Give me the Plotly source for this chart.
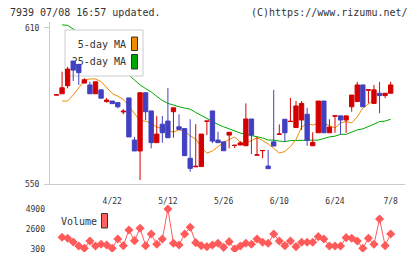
import plotly.graph_objects as go

# ---------------- data ----------------
idx = list(range(61))
tick_pos = [10, 20, 30, 40, 50, 60]
tick_txt = ["4/22", "5/12", "5/26", "6/10", "6/24", "7/8"]

open_ = [584.2, 584.7, 587.8, 597.3, 596.0, 588.8, 588.1, 584.7, 586.2, 581.7,
         581.9, 581.3, 577.7, 583.1, 566.9, 562.7, 585.1, 578.1, 565.9, 573.0,
         574.2, 577.8, 572.0, 571.3, 559.9, 556.6, 556.7, 574.1, 578.1, 566.9,
         566.2, 568.8, 564.8, 565.0, 564.7, 575.0, 561.1, 562.8, 556.9, 566.2,
         569.1, 574.9, 574.0, 571.7, 574.6, 576.8, 564.7, 569.7, 581.9, 569.7,
         576.1, 576.2, 574.6, 579.7, 581.7, 588.1, 586.1, 581.0, 584.9, 584.0,
         584.9]
high = [584.3, 593.2, 595.1, 597.3, 596.0, 590.7, 589.3, 589.3, 586.2, 583.1,
        581.9, 581.3, 578.8, 583.1, 568.1, 585.1, 585.1, 578.1, 576.2, 576.2,
        586.9, 579.3, 576.8, 571.3, 574.9, 573.0, 569.2, 574.2, 578.1, 570.1,
        566.2, 569.9, 564.9, 566.5, 581.0, 575.0, 568.1, 562.9, 563.1, 586.2,
        572.9, 574.9, 583.1, 581.9, 581.9, 579.3, 569.9, 581.9, 581.9, 574.9,
        576.2, 576.2, 576.2, 584.2, 589.3, 588.1, 586.2, 588.1, 589.3, 584.9,
        589.3]
low = [584.2, 584.7, 586.8, 589.6, 588.1, 588.8, 584.7, 584.7, 583.0, 581.3,
       580.9, 579.1, 576.8, 568.1, 562.7, 551.5, 574.6, 563.7, 565.9, 565.9,
       567.8, 567.8, 570.8, 560.9, 554.7, 556.6, 556.7, 568.8, 565.7, 565.9,
       562.8, 563.7, 563.8, 565.0, 564.7, 561.5, 561.1, 559.9, 555.9, 564.6,
       569.1, 566.2, 574.0, 571.7, 570.8, 564.7, 564.7, 569.7, 569.7, 569.7,
       569.7, 569.1, 569.7, 577.8, 581.7, 579.7, 581.0, 581.0, 577.2, 583.0,
       584.9]
close = [584.3, 587.0, 594.2, 593.8, 592.8, 590.1, 584.7, 589.3, 583.0, 582.3,
         580.9, 579.7, 578.0, 568.1, 562.7, 585.1, 577.8, 565.9, 569.2, 569.7,
         567.8, 579.3, 571.0, 560.9, 556.0, 556.8, 569.2, 574.2, 566.5, 565.9,
         562.8, 569.9, 564.9, 565.8, 575.0, 568.8, 561.2, 562.9, 555.9, 564.6,
         569.2, 569.7, 574.1, 580.0, 581.0, 566.8, 566.0, 581.9, 569.7, 571.9,
         576.2, 574.6, 576.2, 584.2, 588.1, 579.7, 586.2, 586.2, 584.0, 584.9,
         588.1]

ma5 = [None, 581.9, 581.9, 584.2, 586.9, 589.8, 590.4, 590.4, 589.4, 586.9,
       584.8, 583.8, 582.5, 580.0, 576.9, 574.2, 574.2, 573.3, 571.9, 571.3,
       570.8, 570.0, 570.8, 570.4, 568.5, 567.3, 564.2, 561.9, 562.7, 564.2,
       566.0, 567.1, 568.1, 566.0, 565.8, 566.7, 567.8, 566.7, 565.4, 563.7,
       561.9, 562.5, 564.4, 567.1, 571.9, 573.3, 572.7, 573.3, 573.3, 572.5,
       571.5, 573.5, 574.0, 573.5, 575.8, 579.2, 580.8, 582.3, None, None,
       None]
ma25 = [None, 611.2, 611.0, 609.6, 608.1, 606.2, 604.6, 602.7, 600.8, 599.2,
        597.3, 595.4, 593.8, 591.9, 590.0, 588.1, 586.7, 585.4, 583.7, 582.1,
        581.0, 580.2, 579.7, 579.2, 578.8, 577.5, 576.3, 575.2, 574.2, 572.9,
        572.0, 571.2, 570.3, 569.6, 569.1, 568.7, 568.3, 567.7, 566.9, 566.9,
        566.5, 566.3, 566.7, 566.7, 566.7, 566.9, 566.9, 566.9, 567.5, 568.1,
        568.4, 569.1, 569.1, 569.9, 570.8, 571.2, 572.0, 573.0, 574.0, 574.2,
        574.9]
volume = [None, 1645, 1530, 1100, 645, 380, 1220, 645, 840, 760,
          380, 1450, 685, 2485, 1260, 2680, 685, 2025, 840, 1450,
          4900, 955, 760, 2025, 2795, 1030, 685, 570, 760, 955,
          490, 1145, 300, 645, 955, 840, 1450, 1070, 955, 2025,
          1220, 685, 1220, 570, 1070, 1070, 1070, 1720, 1450, 645,
          645, 645, 1605, 1530, 1220, 380, 1530, 840, 3750, 685,
          2025]
price_ticks = [550, 610]
vol_ticks = [300, 2600, 4900]

# ---------------- layout geometry ----------------
W, H = 420, 259
PX_L, PX_R = 50, 405
PY_T, PY_B = 22, 184
VY_T, VY_B = 205, 252
X_RANGE = [-1.167, 62.57]
Y_RANGE = [550, 612.3]
V_RANGE = [-45, 5360]

RED = "#d40000"
BLUE = "#4040c0"
ORANGE = "#f08c00"
GREEN = "#00a800"
VOLC = "#ff5a5a"
AX = "#cccccc"
TXT = "#333333"
FONT = "DejaVu Sans Mono"


def px_x(px):
    return X_RANGE[0] + (px - PX_L) / (PX_R - PX_L) * (X_RANGE[1] - X_RANGE[0])


def px_y(py):
    return Y_RANGE[0] + (PY_B - py) / (PY_B - PY_T) * (Y_RANGE[1] - Y_RANGE[0])


xdom = [PX_L / W, PX_R / W]
ydom = [1 - PY_B / H, 1 - PY_T / H]
vdom = [1 - VY_B / H, 1 - VY_T / H]

fig = go.Figure()

# moving averages and the legend box on the main subplot (under the candles)
fig.add_trace(go.Scatter(x=idx, y=ma25, mode="lines", line=dict(color=GREEN, width=1),
                         xaxis="x", yaxis="y", hoverinfo="skip"))
fig.add_trace(go.Scatter(x=idx, y=ma5, mode="lines", line=dict(color=ORANGE, width=1),
                         xaxis="x", yaxis="y", hoverinfo="skip"))
bx0, bx1, by0, by1 = px_x(65), px_x(143), px_y(30), px_y(76)
fig.add_trace(go.Scatter(x=[bx0, bx1, bx1, bx0, bx0], y=[by0, by0, by1, by1, by0],
                         mode="lines", fill="toself", fillcolor="white",
                         line=dict(color=AX, width=1), xaxis="x", yaxis="y",
                         hoverinfo="skip"))
fig.add_trace(go.Scatter(x=[px_x(126), px_x(126)], y=[px_y(45.5), px_y(62.5)],
                         mode="text", text=["5-day MA", "25-day MA"],
                         textposition="middle left",
                         textfont=dict(family=FONT, size=10, color=TXT),
                         xaxis="x", yaxis="y", hoverinfo="skip"))

# candles on an overlaying subplot so they sit above the legend box
fig.add_trace(go.Candlestick(x=idx, open=open_, high=high, low=low, close=close,
                             increasing=dict(line=dict(color=RED, width=1), fillcolor=RED),
                             decreasing=dict(line=dict(color=BLUE, width=1), fillcolor=BLUE),
                             whiskerwidth=0, xaxis="x2", yaxis="y2", hoverinfo="skip"))

# volume
fig.add_trace(go.Scatter(x=idx, y=volume, mode="lines+markers",
                         line=dict(color=VOLC, width=1),
                         marker=dict(symbol="diamond", size=7, color=VOLC),
                         xaxis="x3", yaxis="y3", hoverinfo="skip"))

tickfont = dict(family=FONT, size=8, color=TXT)

fig.update_layout(
    width=W, height=H, margin=dict(l=0, r=0, t=0, b=0, pad=0, autoexpand=False),
    paper_bgcolor="white", plot_bgcolor="rgba(0,0,0,0)",
    showlegend=False, hovermode=False,
    boxgap=0.22, boxgroupgap=0,
    xaxis=dict(domain=xdom, range=X_RANGE, anchor="y", showline=True, linecolor=AX,
               linewidth=1, showgrid=False, zeroline=False, ticks="",
               tickvals=tick_pos, ticktext=tick_txt, tickfont=tickfont,
               ticklabelstandoff=9, automargin=False),
    yaxis=dict(domain=ydom, range=Y_RANGE, anchor="x", showline=True, linecolor=AX,
               linewidth=1, showgrid=False, zeroline=False, ticks="outside",
               ticklen=5, tickcolor=AX, tickvals=price_ticks, tickfont=tickfont,
               ticklabelstandoff=3, automargin=False),
    xaxis2=dict(overlaying="x", range=X_RANGE, anchor="y2", visible=False,
                rangeslider=dict(visible=False), automargin=False),
    yaxis2=dict(overlaying="y", range=Y_RANGE, anchor="x2", visible=False, automargin=False),
    xaxis3=dict(domain=xdom, range=X_RANGE, anchor="y3", visible=False, automargin=False),
    yaxis3=dict(domain=vdom, range=V_RANGE, anchor="x3", showline=False,
                showgrid=False, zeroline=False, ticks="", tickvals=vol_ticks,
                tickfont=tickfont, ticklabelstandoff=4, automargin=False),
    # decorative evenly spaced ticks crossing the axis lines
    xaxis4=dict(overlaying="x", anchor="y", range=[0, 11], tickvals=list(range(12)),
                ticks="outside", ticklen=5, tickcolor=AX, showticklabels=False,
                showline=False, showgrid=False, zeroline=False, automargin=False),
    xaxis5=dict(overlaying="x", anchor="y", range=[0, 11], tickvals=list(range(12)),
                ticks="inside", ticklen=3, tickcolor=AX, showticklabels=False,
                showline=False, showgrid=False, zeroline=False, automargin=False),
    yaxis4=dict(overlaying="y", anchor="x", range=Y_RANGE, tickvals=price_ticks,
                ticks="inside", ticklen=3, tickcolor=AX, showticklabels=False,
                showline=False, showgrid=False, zeroline=False, automargin=False),
)

shapes = [
    dict(type="rect", xref="paper", yref="paper", x0=131.5 / W, x1=137.5 / W,
         y0=1 - 50.5 / H, y1=1 - 37 / H, fillcolor=ORANGE, line=dict(color=TXT, width=1)),
    dict(type="rect", xref="paper", yref="paper", x0=131.5 / W, x1=137.5 / W,
         y0=1 - 69 / H, y1=1 - 54.5 / H, fillcolor=GREEN, line=dict(color=TXT, width=1)),
    dict(type="rect", xref="paper", yref="paper", x0=101.5 / W, x1=107.5 / W,
         y0=1 - 228 / H, y1=1 - 213.5 / H, fillcolor="#ff6060", line=dict(color=TXT, width=1)),
]
fig.update_layout(shapes=shapes)

annos = [
    dict(text="7939 07/08 16:57 updated.", x=8 / W, y=1 - 12.5 / H, xref="paper", yref="paper",
         xanchor="left", yanchor="middle", showarrow=False,
         font=dict(family=FONT, size=10, color=TXT)),
    dict(text="(C)https://www.rizumu.net/", x=410 / W, y=1 - 12.5 / H, xref="paper", yref="paper",
         xanchor="right", yanchor="middle", showarrow=False,
         font=dict(family=FONT, size=10, color=TXT)),
    dict(text="Volume", x=59 / W, y=1 - 221.5 / H, xref="paper", yref="paper",
         xanchor="left", yanchor="middle", showarrow=False,
         font=dict(family=FONT, size=10, color=TXT)),
]
fig.update_layout(annotations=annos)

fig.write_html("out.html")
